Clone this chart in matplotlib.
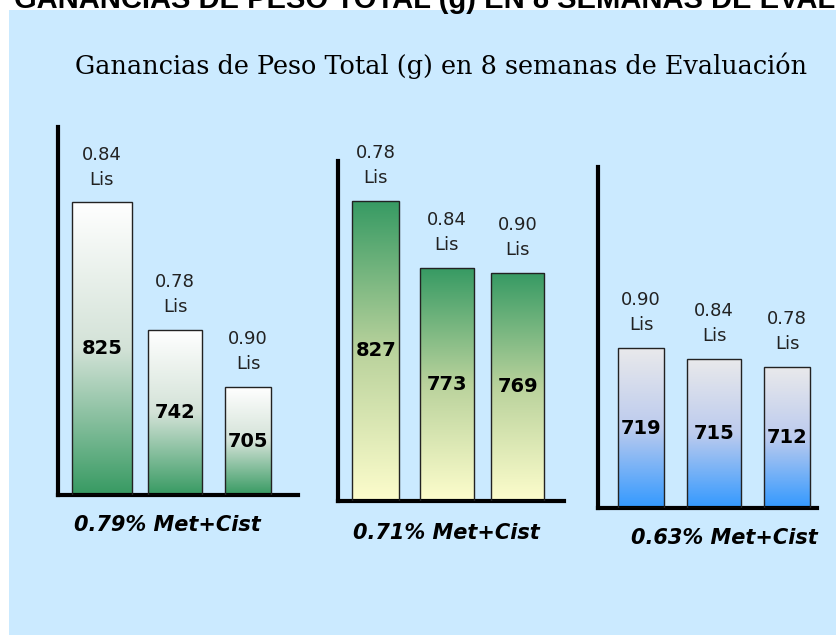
import matplotlib
matplotlib.use("Agg")
import matplotlib.pyplot as plt
import numpy as np
from matplotlib.colors import LinearSegmentedColormap
from matplotlib.patches import Rectangle

# Data
groups = ["0.79% Met+Cist", "0.71% Met+Cist", "0.63% Met+Cist"]
lis_g1 = ["0.84", "0.78", "0.90"]
lis_g2 = ["0.78", "0.84", "0.90"]
lis_g3 = ["0.90", "0.84", "0.78"]
gain_g1 = [825, 742, 705]
gain_g2 = [827, 773, 769]
gain_g3 = [719, 715, 712]

TITLE = "Ganancias de Peso Total (g) en 8 semanas de Evaluación"
TOP_TITLE = "GANANCIAS DE PESO TOTAL (g) EN 8 SEMANAS DE EVALUACIÓN"

W, H = 837, 635
BG = "#cbeaff"

# panel layout in pixels: (x0, x1, y_top, y_base), ylim, xlim, bar widths, cmap stops
panels = [
    dict(px=(58, 298, 127, 495), ylim=(635, 874), xlim=(-0.60, 2.68),
         widths=[0.82, 0.73, 0.63], colors=["#ffffff", "#d3e2d7", "#379a62"],
         lis=lis_g1, gain=gain_g1, label_xy=(167, 525)),
    dict(px=(338, 564, 161, 501), ylim=(585, 859), xlim=(-0.53, 2.65),
         widths=[0.66, 0.76, 0.75], colors=["#369a63", "#b9d29c", "#fdfdcc"],
         lis=lis_g2, gain=gain_g2, label_xy=(446, 533)),
    dict(px=(598, 817, 167, 508), ylim=(660, 786), xlim=(-0.59, 2.41),
         widths=[0.63, 0.73, 0.64], colors=["#e9e9eb", "#bccbee", "#3399ff"],
         lis=lis_g3, gain=gain_g3, label_xy=(724, 538)),
]

fig = plt.figure(figsize=(W / 100, H / 100), dpi=100)
fig.patch.set_facecolor("white")

# light blue slide panel
bg_ax = fig.add_axes([9 / W, 0, 1 - 9 / W, (H - 10) / H])
bg_ax.set_facecolor(BG)
bg_ax.set_xticks([])
bg_ax.set_yticks([])
for s in bg_ax.spines.values():
    s.set_visible(False)

# heading clipped at the very top (as in the original slide)
fig.text(14 / W, 1 - 8 / H, TOP_TITLE, fontsize=21, fontweight="bold",
         family="Liberation Sans", ha="left", va="baseline", color="black",
         zorder=0)

fig.text(441 / W, 1 - 74 / H, TITLE, fontsize=18.4, family="DejaVu Serif",
         ha="center", va="baseline", color="black")

grad = np.linspace(0, 1, 256).reshape(-1, 1)

for p in panels:
    x0, x1, yt, yb = p["px"]
    ax = fig.add_axes([x0 / W, 1 - yb / H, (x1 - x0) / W, (yb - yt) / H])
    ax.patch.set_alpha(0)
    cmap = LinearSegmentedColormap.from_list("g", p["colors"])
    ymin = p["ylim"][0]
    for i, (v, lis, w) in enumerate(zip(p["gain"], p["lis"], p["widths"])):
        rect = Rectangle((i - w / 2, ymin), w, v - ymin, facecolor="none",
                         edgecolor="#222222", linewidth=1.0, zorder=3)
        ax.add_patch(rect)
        im = ax.imshow(grad, cmap=cmap, aspect="auto", origin="upper",
                       extent=(i - w / 2, i + w / 2, ymin, v), zorder=2)
        im.set_clip_path(rect)
        ax.text(i, (ymin + v) / 2, str(v), ha="center", va="center",
                fontsize=14, fontweight="bold", color="black", zorder=4)
        ax.annotate(f"{lis}\nLis", (i, v), xytext=(0, 10),
                    textcoords="offset points", ha="center", va="bottom",
                    fontsize=13, color="#222222", linespacing=1.5)
    ax.set_xlim(*p["xlim"])
    ax.set_ylim(*p["ylim"])
    ax.set_xticks([])
    ax.set_yticks([])
    ax.spines["top"].set_visible(False)
    ax.spines["right"].set_visible(False)
    ax.spines["left"].set_linewidth(3)
    ax.spines["bottom"].set_linewidth(3)

for p, g in zip(panels, groups):
    lx, ly = p["label_xy"]
    fig.text(lx / W, 1 - ly / H, g, ha="center", va="center", fontsize=15,
             fontweight="bold", fontstyle="italic", color="black")

fig.savefig("out.png", dpi=100)
